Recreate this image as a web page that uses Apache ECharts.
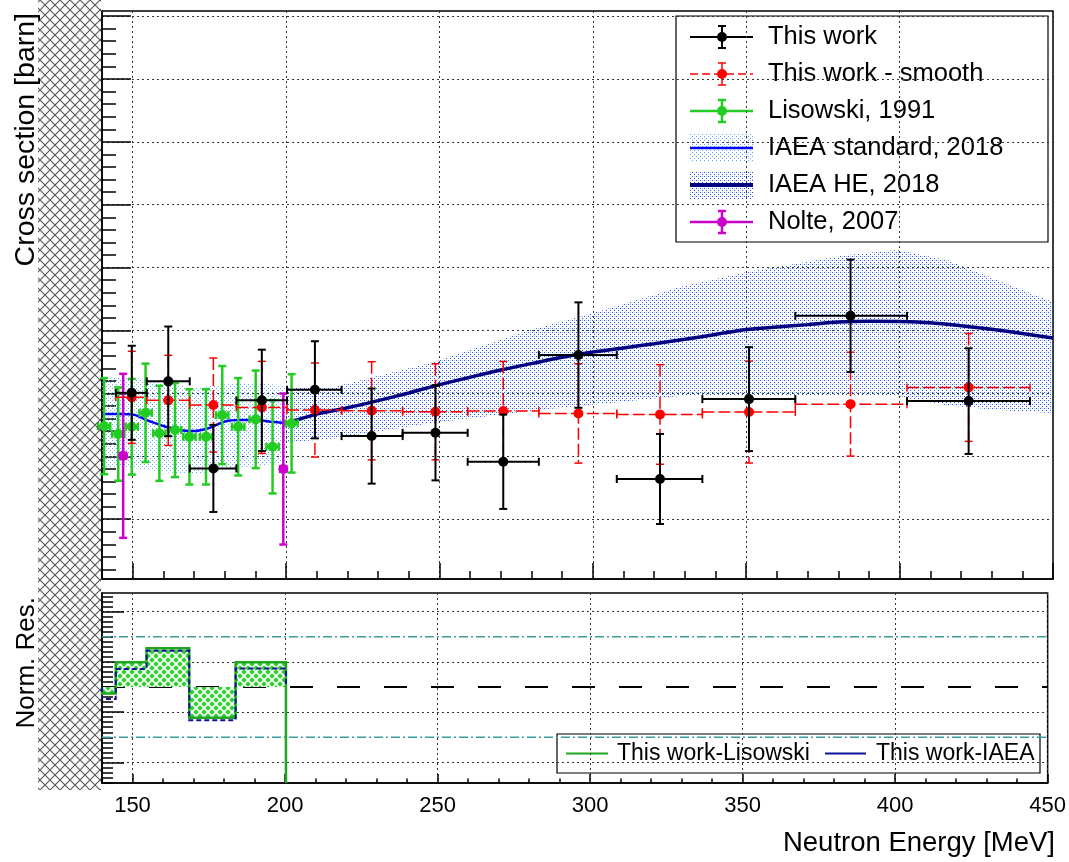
<!DOCTYPE html>
<html><head><meta charset="utf-8">
<script src="https://cdn.jsdelivr.net/npm/echarts@6/dist/echarts.min.js"></script>
<style>html,body{margin:0;padding:0;background:#fff}#c{width:1069px;height:862px}</style>
</head><body><div id="c"></div>
<script>
const FONT = '"Liberation Sans", Arial, Helvetica, sans-serif';

// ---------------- data ----------------
// This work (bins)
const workE    = [149.7, 161.6, 176.3, 192.1, 209.4, 227.9, 248.7, 270.8, 295.3, 321.9, 350.9, 384.0, 422.5];
const binLow   = [144.5, 154.6, 168.6, 183.8, 200.3, 218.1, 238.0, 259.2, 282.4, 307.8, 335.7, 366.0, 402.4];
const binHigh  = [154.6, 168.6, 183.8, 200.3, 218.1, 238.0, 259.2, 282.4, 307.8, 335.7, 366.0, 402.4, 442.5];
const workY    = [1.2005, 1.2096, 1.1404, 1.1945, 1.2029, 1.1661, 1.1687, 1.1457, 1.2305, 1.1320, 1.1955, 1.2617, 1.1939];
const workErr  = [0.0374, 0.0436, 0.0346, 0.0403, 0.0386, 0.0378, 0.0378, 0.0375, 0.0419, 0.0358, 0.0413, 0.0447, 0.0420];
// This work - smooth
const smoothY   = [1.1969, 1.1945, 1.1908, 1.1889, 1.1868, 1.1862, 1.1854, 1.1860, 1.1841, 1.1833, 1.1852, 1.1915, 1.2048];
const smoothErr = [0.0366, 0.0358, 0.0374, 0.0366, 0.0374, 0.0390, 0.0382, 0.0394, 0.0395, 0.0396, 0.0405, 0.0413, 0.0429];
// Lisowski, 1991
const lisE    = [140.7, 145.3, 149.7, 154.2, 158.7, 163.8, 168.5, 173.9, 179.2, 184.4, 190.1, 195.6, 201.8];
const lisY    = [1.1740, 1.1677, 1.1735, 1.1846, 1.1683, 1.1709, 1.1655, 1.1655, 1.1828, 1.1735, 1.1794, 1.1576, 1.1762];
const lisErr  = [0.0382, 0.0371, 0.0380, 0.0391, 0.0378, 0.0374, 0.0379, 0.0379, 0.0390, 0.0387, 0.0388, 0.0371, 0.0391];
const lisXErr = [2.0, 2.0, 2.0, 2.0, 2.0, 2.0, 2.0, 2.0, 2.0, 2.0, 2.0, 2.0, 2.0];
// Nolte, 2007
const nolteE    = [146.9, 199.1];
const nolteY    = [1.1504, 1.1399];
const nolteErr  = [0.0652, 0.0600];
const nolteXErr = [1.0, 1.0];
// IAEA standard, 2018
const stdE  = [140, 145, 150, 155, 160, 165, 170, 175, 180, 185, 190, 195, 200];
const stdY  = [1.1836, 1.1836, 1.1832, 1.1784, 1.1741, 1.1709, 1.1701, 1.1725, 1.1776, 1.1788, 1.1788, 1.1775, 1.1764];
const stdBandE  = [140, 150, 160, 170, 180, 190, 200];
const stdBandHi = [1.2130, 1.2130, 1.2082, 1.2043, 1.2074, 1.2082, 1.2066];
const stdBandLo = [1.1415, 1.1407, 1.1375, 1.1359, 1.1391, 1.1423, 1.1454];
// IAEA HE, 2018
const heE = [200, 210, 220, 230, 240, 250, 260, 270, 280, 290, 300, 310, 320, 330, 340, 350, 360, 370, 380, 390, 400, 410, 420, 430, 440, 450];
const heY = [1.1762, 1.1836, 1.1886, 1.1943, 1.2004, 1.2070, 1.2129, 1.2186, 1.2237, 1.2287, 1.2329, 1.2362, 1.2395, 1.2430, 1.2469, 1.2508, 1.2528, 1.2547, 1.2567, 1.2574, 1.2571, 1.2561, 1.2538, 1.2510, 1.2477, 1.2440];
const heBandE  = [200, 214.3, 246.9, 279.5, 301.4, 328.4, 350.3, 382.9, 399.1, 415.4, 431.7, 450];
const heBandHi = [1.2043, 1.2043, 1.2241, 1.2504, 1.2647, 1.2846, 1.2965, 1.3100, 1.3140, 1.3060, 1.2901, 1.2726];
const heBandLo = [1.1613, 1.1637, 1.1764, 1.1860, 1.1915, 1.1979, 1.1987, 1.1987, 1.1979, 1.1907, 1.1868, 1.1844];
// Residual panel
const resEdges = [140, 144.5, 154.6, 168.6, 183.8, 200.3];
const resLis   = [-0.13, 0.49, 0.77, -0.61, 0.49];
const resIAEA  = [-0.24, 0.36, 0.72, -0.66, 0.37];
// ticks
const xMajorTicks   = [150, 200, 250, 300, 350, 400, 450];
const yMajorTicks   = [1.10, 1.15, 1.20, 1.25, 1.30, 1.35, 1.40, 1.45, 1.50];
const resMajorTicks = [-1.5, -0.5, 0.5, 1.5];
const Y_MIN = 1.0525, Y_MAX = 1.504, R_MIN = -1.909, R_MAX = 1.869;
const yMinorTicks = []; for (let k = 106; k <= 150; k++) if (k % 5) yMinorTicks.push(k / 100);
const resMinorTicks = []; for (let k = -19; k <= 18; k++) if (Math.abs(k) !== 5 && Math.abs(k) !== 15) resMinorTicks.push(k / 10);

// ---------------- patterns ----------------
function mk(w, h, fn) { const c = document.createElement('canvas'); c.width = w; c.height = h; fn(c.getContext('2d')); return c; }
const hatchImg = mk(10, 10, g => { g.strokeStyle = '#555'; g.lineWidth = 1.1; g.beginPath(); g.moveTo(-1, -1); g.lineTo(11, 11); g.moveTo(11, -1); g.lineTo(-1, 11); g.stroke(); });
const heDots  = mk(4, 4, g => { g.fillStyle = '#1f56e0'; g.fillRect(0, 0, 1, 1); g.fillRect(2, 2, 1, 1); g.fillStyle = 'rgba(31,86,224,0.35)'; g.fillRect(2, 0, 1, 1); });
const stdDots = mk(4, 4, g => { g.fillStyle = '#5aa8ff'; g.fillRect(0, 0, 1, 1); g.fillRect(2, 2, 1, 1); });
const weave = mk(8, 8, g => { g.fillStyle = '#2ed12e'; g.fillRect(0, 0, 8, 8); g.strokeStyle = '#ffffff'; g.lineWidth = 1.6; g.beginPath(); g.moveTo(-1, -1); g.lineTo(9, 9); g.moveTo(9, -1); g.lineTo(-1, 9); g.stroke(); });
const pat = img => ({ image: img, repeat: 'repeat' });

// ---------------- render helpers ----------------
function errRender(o) {
  return function (params, api) {
    const x = api.value(0), y = api.value(1), xl = api.value(2), xh = api.value(3), ey = api.value(4);
    const c = api.coord([x, y]), L = api.coord([xl, y]), H = api.coord([xh, y]);
    const T = api.coord([x, y + ey]), B = api.coord([x, y - ey]);
    const st = { stroke: o.color, lineWidth: o.lw, lineDash: o.dash || null };
    const cs = { stroke: o.color, lineWidth: o.lw };
    const k = o.cap;
    return { type: 'group', children: [
      { type: 'line', shape: { x1: L[0], y1: c[1], x2: H[0], y2: c[1] }, style: st },
      { type: 'line', shape: { x1: c[0], y1: T[1], x2: c[0], y2: B[1] }, style: st },
      { type: 'line', shape: { x1: c[0] - k, y1: T[1], x2: c[0] + k, y2: T[1] }, style: cs },
      { type: 'line', shape: { x1: c[0] - k, y1: B[1], x2: c[0] + k, y2: B[1] }, style: cs },
      { type: 'line', shape: { x1: L[0], y1: c[1] - k, x2: L[0], y2: c[1] + k }, style: cs },
      { type: 'line', shape: { x1: H[0], y1: c[1] - k, x2: H[0], y2: c[1] + k }, style: cs },
      { type: 'circle', shape: { cx: c[0], cy: c[1], r: o.r }, style: { fill: o.color } }
    ] };
  };
}
function bandRender(E, hi, lo, fill) {
  return function (params, api) {
    const pts = [];
    for (let i = 0; i < E.length; i++) pts.push(api.coord([E[i], hi[i]]));
    for (let i = E.length - 1; i >= 0; i--) pts.push(api.coord([E[i], lo[i]]));
    return { type: 'polygon', shape: { points: pts }, style: { fill: fill } };
  };
}
function resRender(params, api) {
  const ch = [];
  const y0 = api.coord([140, 0])[1];
  for (let i = 0; i < resLis.length; i++) {
    const a = api.coord([resEdges[i], resLis[i]]), b = api.coord([resEdges[i + 1], 0]);
    ch.push({ type: 'rect', shape: { x: a[0], y: Math.min(a[1], y0), width: b[0] - a[0], height: Math.abs(a[1] - y0) }, style: { fill: pat(weave) } });
  }
  const gp = [api.coord([resEdges[0], 0])];
  for (let i = 0; i < resLis.length; i++) { gp.push(api.coord([resEdges[i], resLis[i]])); gp.push(api.coord([resEdges[i + 1], resLis[i]])); }
  gp.push(api.coord([resEdges[resEdges.length - 1], R_MIN]));
  ch.push({ type: 'polyline', shape: { points: gp }, style: { stroke: '#1fa51f', lineWidth: 2.5, fill: null } });
  const bp = [api.coord([resEdges[0], 0])];
  for (let i = 0; i < resIAEA.length; i++) { bp.push(api.coord([resEdges[i], resIAEA[i]])); bp.push(api.coord([resEdges[i + 1], resIAEA[i]])); }
  bp.push(api.coord([resEdges[resEdges.length - 1], 0]));
  ch.push({ type: 'polyline', shape: { points: bp }, style: { stroke: '#10109a', lineWidth: 2, fill: null, lineDash: [5, 3] } });
  return { type: 'group', children: ch };
}

// ---------------- axes ----------------
const gridLine = { show: true, lineStyle: { color: '#333', width: 1, type: [2, 3] } };
function xAx(grid, major, len, labels) {
  return { gridIndex: grid, type: 'value', min: 140, max: 450, position: 'bottom',
    axisLine: { show: major, onZero: false, lineStyle: { color: '#000', width: 1.5 } },
    axisTick: major ? { show: true, inside: true, length: len, customValues: xMajorTicks, lineStyle: { color: '#000', width: 1.5 } }
                    : { show: true, inside: true, length: len, lineStyle: { color: '#000', width: 1.5 } },
    interval: major ? undefined : 10,
    axisLabel: labels ? { show: true, customValues: xMajorTicks, fontSize: 22, color: '#000', margin: 12, fontFamily: FONT } : { show: false },
    splitLine: major ? gridLine : { show: false } };
}
function yAx(grid, min, max, ticks, len, split, showLine) {
  return { gridIndex: grid, type: 'value', min: min, max: max, position: 'left',
    axisLine: { show: showLine, onZero: false, lineStyle: { color: '#000', width: 1.5 } },
    axisTick: { show: true, inside: true, length: len, customValues: ticks, lineStyle: { color: '#000', width: 1.5 } },
    axisLabel: { show: false }, splitLine: split ? gridLine : { show: false } };
}

const errData = (E, Y, lo, hi, err) => E.map((e, i) => [e, Y[i], lo[i], hi[i], err[i]]);

// ---------------- legend graphics ----------------
const LX0 = 690, LX1 = 753, LXC = 722, LTX = 768;
const rows = [37, 74, 111, 148, 185, 222];
function errSym(cy, color, lw, dash) {
  return [
    { type: 'line', shape: { x1: LX0, y1: cy, x2: LX1, y2: cy }, style: { stroke: color, lineWidth: lw, lineDash: dash || null } },
    { type: 'line', shape: { x1: LXC, y1: cy - 11, x2: LXC, y2: cy + 11 }, style: { stroke: color, lineWidth: lw } },
    { type: 'line', shape: { x1: LXC - 4, y1: cy - 11, x2: LXC + 4, y2: cy - 11 }, style: { stroke: color, lineWidth: lw } },
    { type: 'line', shape: { x1: LXC - 4, y1: cy + 11, x2: LXC + 4, y2: cy + 11 }, style: { stroke: color, lineWidth: lw } },
    { type: 'circle', shape: { cx: LXC, cy: cy, r: 5 }, style: { fill: color } }
  ];
}
function ltext(x, y, s, size) { return { type: 'text', x: x, y: y, style: { text: s, fill: '#000', font: size + 'px ' + FONT, verticalAlign: 'middle', align: 'left' } }; }
const legendLabels = ['This work', 'This work - smooth', 'Lisowski, 1991', 'IAEA standard, 2018', 'IAEA HE, 2018', 'Nolte, 2007'];
const legendKids = [
  { type: 'rect', shape: { x: 676, y: 16, width: 372, height: 226 }, style: { fill: '#fff', stroke: '#000', lineWidth: 1.2 } },
  ...errSym(rows[0], '#000', 2),
  ...errSym(rows[1], '#ff0000', 1.5, [8, 4]),
  ...errSym(rows[2], '#22cc22', 2.5),
  { type: 'rect', shape: { x: LX0, y: rows[3] - 14, width: LX1 - LX0, height: 28 }, style: { fill: pat(stdDots) } },
  { type: 'line', shape: { x1: LX0, y1: rows[3], x2: LX1, y2: rows[3] }, style: { stroke: '#0000ff', lineWidth: 2.5 } },
  { type: 'rect', shape: { x: LX0, y: rows[4] - 14, width: LX1 - LX0, height: 28 }, style: { fill: pat(heDots) } },
  { type: 'line', shape: { x1: LX0, y1: rows[4], x2: LX1, y2: rows[4] }, style: { stroke: '#000080', lineWidth: 4 } },
  ...errSym(rows[5], '#cc00cc', 2.5),
  ...legendLabels.map((s, i) => ltext(LTX, rows[i], s, 25.5))
];
const lowLegend = [
  { type: 'rect', shape: { x: 557, y: 734, width: 483, height: 39 }, style: { fill: '#fff', stroke: '#000', lineWidth: 1.2 } },
  { type: 'line', shape: { x1: 566, y1: 753.5, x2: 608, y2: 753.5 }, style: { stroke: '#1fa51f', lineWidth: 2 } },
  ltext(617, 753.5, 'This work-Lisowski', 23),
  { type: 'line', shape: { x1: 825, y1: 753.5, x2: 866, y2: 753.5 }, style: { stroke: '#10109a', lineWidth: 2 } },
  ltext(876, 753.5, 'This work-IAEA', 23)
];

const chart = echarts.init(document.getElementById('c'), null, { renderer: 'canvas' });
chart.setOption({
  animation: false,
  backgroundColor: '#fff',
  textStyle: { fontFamily: FONT },
  grid: [
    { left: 102, top: 11, width: 951, height: 568, show: true, borderColor: '#000', borderWidth: 1.5, backgroundColor: '#fff' },
    { left: 102, top: 593, width: 951, height: 190, show: true, borderColor: '#000', borderWidth: 1.5, backgroundColor: '#fff' }
  ],
  xAxis: [xAx(0, true, 16, false), xAx(0, false, 8, false), xAx(1, true, 9, true), xAx(1, false, 4.5, false)],
  yAxis: [
    yAx(0, Y_MIN, Y_MAX, yMajorTicks, 29, true, true),
    yAx(0, Y_MIN, Y_MAX, yMinorTicks, 14, false, false),
    yAx(1, R_MIN, R_MAX, resMajorTicks, 22, true, true),
    yAx(1, R_MIN, R_MAX, resMinorTicks, 11, false, false)
  ],
  series: [
    { type: 'custom', xAxisIndex: 0, yAxisIndex: 0, silent: true, z: 1, renderItem: bandRender(heBandE, heBandHi, heBandLo, pat(heDots)), data: [[heBandE[0], heBandHi[0]]], encode: { x: 0, y: 1 } },
    { type: 'custom', xAxisIndex: 0, yAxisIndex: 0, silent: true, z: 1, renderItem: bandRender(stdBandE, stdBandHi, stdBandLo, pat(stdDots)), data: [[stdBandE[0], stdBandHi[0]]], encode: { x: 0, y: 1 } },
    { type: 'line', xAxisIndex: 0, yAxisIndex: 0, z: 2, symbol: 'none', smooth: 0.3, data: stdE.map((e, i) => [e, stdY[i]]), lineStyle: { color: '#0000ff', width: 2.5 } },
    { type: 'line', xAxisIndex: 0, yAxisIndex: 0, z: 2, symbol: 'none', smooth: 0.3, data: heE.map((e, i) => [e, heY[i]]), lineStyle: { color: '#000080', width: 3.5 } },
    { type: 'custom', xAxisIndex: 0, yAxisIndex: 0, z: 3, renderItem: errRender({ color: '#22cc22', lw: 2.5, cap: 4, r: 5 }), encode: { x: 0, y: 1 },
      data: lisE.map((e, i) => [e, lisY[i], e - lisXErr[i], e + lisXErr[i], lisErr[i]]) },
    { type: 'custom', xAxisIndex: 0, yAxisIndex: 0, z: 4, renderItem: errRender({ color: '#cc00cc', lw: 2.5, cap: 4, r: 5 }), encode: { x: 0, y: 1 },
      data: nolteE.map((e, i) => [e, nolteY[i], e - nolteXErr[i], e + nolteXErr[i], nolteErr[i]]) },
    { type: 'custom', xAxisIndex: 0, yAxisIndex: 0, z: 5, renderItem: errRender({ color: '#ff0000', lw: 1.5, cap: 4, r: 5, dash: [12, 4] }), encode: { x: 0, y: 1 },
      data: errData(workE, smoothY, binLow, binHigh, smoothErr) },
    { type: 'custom', xAxisIndex: 0, yAxisIndex: 0, z: 6, renderItem: errRender({ color: '#000000', lw: 2, cap: 4, r: 5 }), encode: { x: 0, y: 1 },
      data: errData(workE, workY, binLow, binHigh, workErr) },
    // residual panel
    { type: 'line', xAxisIndex: 2, yAxisIndex: 2, z: 2, symbol: 'none', data: [[140, 1], [450, 1]], lineStyle: { color: '#3a9e9e', width: 1.5, type: [9, 3, 2, 3] } },
    { type: 'line', xAxisIndex: 2, yAxisIndex: 2, z: 2, symbol: 'none', data: [[140, -1], [450, -1]], lineStyle: { color: '#3a9e9e', width: 1.5, type: [9, 3, 2, 3] } },
    { type: 'line', xAxisIndex: 2, yAxisIndex: 2, z: 2, symbol: 'none', data: [[140, 0], [450, 0]], lineStyle: { color: '#000', width: 2, type: [23, 24] } },
    { type: 'custom', xAxisIndex: 2, yAxisIndex: 2, z: 4, renderItem: resRender, data: [[resEdges[0], 0]], encode: { x: 0, y: 1 } }
  ],
  graphic: [
    { type: 'rect', z: 100, shape: { x: 38, y: 0, width: 63, height: 790 }, style: { fill: pat(hatchImg) } },
    { type: 'text', z: 100, x: 26, y: 13, rotation: Math.PI / 2, style: { text: 'Cross section [barn]', fill: '#000', font: '28.5px ' + FONT, align: 'right', verticalAlign: 'middle' } },
    { type: 'text', z: 100, x: 27, y: 597, rotation: Math.PI / 2, style: { text: 'Norm. Res.', fill: '#000', font: '26px ' + FONT, align: 'right', verticalAlign: 'middle' } },
    { type: 'text', z: 100, x: 1055, y: 843, style: { text: 'Neutron Energy [MeV]', fill: '#000', font: '27.5px ' + FONT, align: 'right', verticalAlign: 'middle' } },
    { type: 'group', z: 100, children: legendKids },
    { type: 'group', z: 100, children: lowLegend }
  ]
});
</script>
</body></html>
